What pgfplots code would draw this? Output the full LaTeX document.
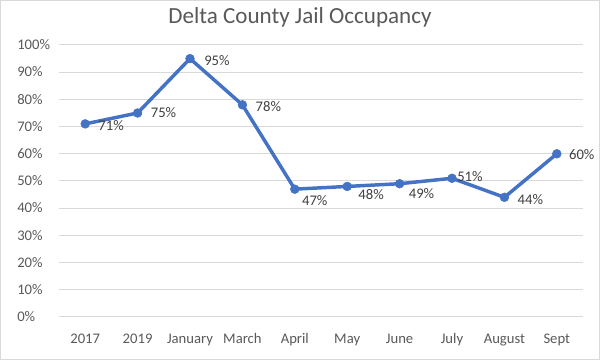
\documentclass[border=0pt]{standalone}
\usepackage{pgfplots}
\pgfplotsset{compat=1.18}
\usepackage{fontspec}
\setmainfont{Carlito}
\definecolor{lineblue}{HTML}{4472C4}
\definecolor{gridgray}{HTML}{D9D9D9}
\definecolor{ticktext}{HTML}{595959}
\definecolor{labeltext}{HTML}{404040}
\begin{document}
\begin{tikzpicture}
\path[use as bounding box] (-44.25pt,-32.25pt) rectangle (405.75pt,237.75pt);
\draw[gridgray, line width=0.75pt] (-43.875pt,-31.875pt) rectangle (405.375pt,237.375pt);
\begin{axis}[
  scale only axis,
  width=393pt, height=204pt,
  xmin=-0.5, xmax=9.5,
  ymin=0, ymax=100,
  axis line style={draw=none},
  tick style={draw=none},
  ymajorgrids,
  grid style={gridgray, line width=0.75pt},
  xtick={0,...,9},
  xticklabels={2017,2019,January,March,April,May,June,July,August,Sept},
  ytick={0,10,...,100},
  yticklabel={\pgfmathprintnumber{\tick}\%},
  /pgf/number format/assume math mode=true,
  xticklabel style={font=\fontsize{11}{13}\selectfont, text=ticktext, inner sep=0pt, anchor=base, yshift=-20pt},
  yticklabel style={font=\fontsize{11}{13}\selectfont, text=ticktext, inner sep=0pt, anchor=base west, xshift=-31.5pt, yshift=-3.5pt},
  title={Delta County Jail Occupancy},
  title style={at={(0.46,1.074)}, anchor=center, font=\fontsize{17.3}{20}\selectfont, text=ticktext, inner sep=0pt},
  clip=false,
]
\addplot[
  lineblue, line width=2.6pt, line join=round, mark=*, mark size=3.3pt,
  mark options={solid, fill=lineblue, draw=lineblue, line width=0.4pt},
  point meta=explicit,
  visualization depends on={\thisrow{dx} \as \dx},
  visualization depends on={\thisrow{dy} \as \dy},
  nodes near coords={\pgfmathprintnumber{\pgfplotspointmeta}\%},
  every node near coord/.append style={font=\fontsize{11}{13}\selectfont, text=labeltext, inner sep=0pt, anchor=west, xshift=\dx*0.75pt, yshift=-\dy*0.75pt},
] table[x=x, y=y, meta=y] {
x y dx dy
0 71 13 2
1 75 13 0
2 95 14 2
3 78 13 2
4 47 7 11
5 48 11 8
6 49 9 10
7 51 5 -2
8 44 13 2
9 60 12 1
};
\end{axis}
\end{tikzpicture}
\end{document}
